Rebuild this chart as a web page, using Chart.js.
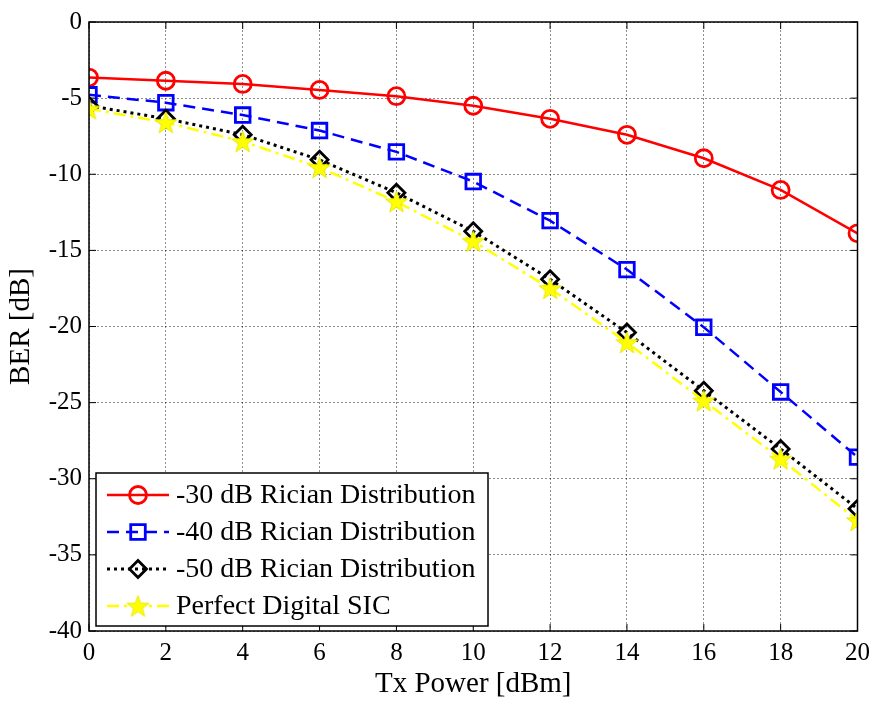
<!DOCTYPE html>
<html>
<head>
<meta charset="utf-8">
<script src="https://cdn.jsdelivr.net/npm/chart.js@4/dist/chart.umd.min.js"></script>
<style>
  body { margin: 0; background: #fff; }
  canvas { display: block; }
</style>
</head>
<body>
<canvas id="ber-chart" width="877" height="702"></canvas>
<script>
// Tx power sweep (dBm) and BER curves (dB)
const txPower = [0, 2, 4, 6, 8, 10, 12, 14, 16, 18, 20];
const rician30 = [-3.65, -3.86, -4.07, -4.46, -4.87, -5.5, -6.36, -7.41, -8.95, -11.03, -13.88];
const rician40 = [-4.78, -5.3, -6.11, -7.13, -8.53, -10.48, -13.05, -16.26, -20.05, -24.3, -28.58];
const rician50 = [-5.5, -6.35, -7.4, -9.05, -11.22, -13.75, -16.9, -20.4, -24.22, -28.04, -31.97];
const perfectSIC = [-5.7, -6.6, -7.85, -9.55, -11.8, -14.4, -17.5, -21.05, -24.88, -28.7, -32.74];

const seriesNames = ['-30 dB Rician Distribution', '-40 dB Rician Distribution',
                     '-50 dB Rician Distribution', 'Perfect Digital SIC'];
const xTicks = [0, 2, 4, 6, 8, 10, 12, 14, 16, 18, 20];
const yTicks = [0, -5, -10, -15, -20, -25, -30, -35, -40];

const FONT = '"Liberation Serif", "Times New Roman", serif';

// filled pentagram marker (Chart.js 'star' is only an asterisk)
function makeStar(r) {
    const size = Math.ceil(r * 2 + 4);
    const c = document.createElement('canvas');
    c.width = size; c.height = size;
    const g = c.getContext('2d');
    const cx = size / 2, cy = size / 2 + 1;
    g.beginPath();
    for (let i = 0; i < 10; i++) {
        const rad = i % 2 === 0 ? r : r * 0.4;
        const a = -Math.PI / 2 + i * Math.PI / 5;
        g.lineTo(cx + rad * Math.cos(a), cy + rad * Math.sin(a));
    }
    g.closePath();
    g.fillStyle = '#ffff00';
    g.fill();
    g.strokeStyle = '#e8e800';
    g.lineWidth = 1;
    g.stroke();
    return c;
}
const starImg = makeStar(11.5);

const toPoints = ys => ys.map((y, i) => ({ x: txPower[i], y }));

const datasets = [
    { label: seriesNames[0], data: toPoints(rician30), borderColor: '#ff0000', borderWidth: 2.5,
      pointStyle: 'circle', pointRadius: 8.5, pointBorderWidth: 2.8, order: 3 },
    { label: seriesNames[1], data: toPoints(rician40), borderColor: '#0000ff', borderWidth: 2.5,
      borderDash: [12, 7], pointStyle: 'rect', pointRadius: 10.3, pointBorderWidth: 2.8, order: 2 },
    { label: seriesNames[2], data: toPoints(rician50), borderColor: '#000000', borderWidth: 3,
      borderDash: [3, 4], pointStyle: 'rectRot', pointRadius: 8.5, pointBorderWidth: 2.8, order: 1 },
    { label: seriesNames[3], data: toPoints(perfectSIC), borderColor: '#ffff00', borderWidth: 2.5,
      borderDash: [12, 5, 3, 5], pointStyle: starImg, pointRadius: 11, order: 0 }
];
datasets.forEach(d => {
    d.fill = false;
    d.tension = 0;
    d.pointBackgroundColor = 'rgba(0,0,0,0)';
    d.pointBorderColor = d.borderColor;
});

// axes frame with inward ticks on all four sides, plus the legend box
const framePlugin = {
    id: 'frame',
    afterDatasetsDraw(chart) {
        const { ctx, chartArea: a, scales } = chart;
        ctx.save();
        ctx.strokeStyle = '#000';
        ctx.lineWidth = 1.5;
        ctx.setLineDash([]);
        ctx.strokeRect(a.left, a.top, a.right - a.left, a.bottom - a.top);
        ctx.lineWidth = 1;
        const tl = 7;
        ctx.beginPath();
        xTicks.forEach(v => {
            const px = scales.x.getPixelForValue(v);
            ctx.moveTo(px, a.bottom); ctx.lineTo(px, a.bottom - tl);
            ctx.moveTo(px, a.top); ctx.lineTo(px, a.top + tl);
        });
        yTicks.forEach(v => {
            const py = scales.y.getPixelForValue(v);
            ctx.moveTo(a.left, py); ctx.lineTo(a.left + tl, py);
            ctx.moveTo(a.right, py); ctx.lineTo(a.right - tl, py);
        });
        ctx.stroke();

        // legend
        const lx = 96, ly = 473, lw = 392, lh = 153;
        ctx.fillStyle = '#fff';
        ctx.fillRect(lx, ly, lw, lh);
        ctx.lineWidth = 1.5;
        ctx.strokeRect(lx, ly, lw, lh);
        ctx.font = '28px ' + FONT;
        ctx.textBaseline = 'middle';
        ctx.textAlign = 'left';
        chart.data.datasets.forEach((d, i) => {
            const y = ly + 22 + i * 37;
            ctx.strokeStyle = d.borderColor;
            ctx.lineWidth = d.borderWidth;
            ctx.setLineDash(d.borderDash || []);
            ctx.beginPath();
            ctx.moveTo(lx + 11, y); ctx.lineTo(lx + 73, y);
            ctx.stroke();
            ctx.setLineDash([]);
            const mx = lx + 42;
            ctx.lineWidth = d.pointBorderWidth || 2.5;
            ctx.beginPath();
            if (d.pointStyle === 'circle') {
                ctx.arc(mx, y, d.pointRadius, 0, Math.PI * 2);
                ctx.stroke();
            } else if (d.pointStyle === 'rect') {
                const s = d.pointRadius * Math.SQRT1_2;
                ctx.rect(mx - s, y - s, 2 * s, 2 * s);
                ctx.stroke();
            } else if (d.pointStyle === 'rectRot') {
                const r = d.pointRadius;
                ctx.moveTo(mx - r, y); ctx.lineTo(mx, y - r);
                ctx.lineTo(mx + r, y); ctx.lineTo(mx, y + r);
                ctx.closePath();
                ctx.stroke();
            } else {
                ctx.drawImage(starImg, mx - starImg.width / 2, y - starImg.height / 2);
            }
            ctx.fillStyle = '#000';
            ctx.fillText(d.label, lx + 80, y + 1);
        });
        ctx.restore();
    }
};

new Chart(document.getElementById('ber-chart'), {
    type: 'line',
    data: { datasets },
    options: {
        responsive: false,
        animation: false,
        layout: { padding: { top: 8, right: 8, left: 0, bottom: 0 } },
        plugins: { legend: { display: false }, tooltip: { enabled: false } },
        scales: {
            x: {
                type: 'linear', min: 0, max: 20,
                afterBuildTicks: s => { s.ticks = xTicks.map(v => ({ value: v })); },
                afterFit: s => { s.height = 71; },
                grid: { color: 'rgba(0,0,0,0.45)', lineWidth: 1, drawTicks: false },
                border: { display: false, dash: [2, 2] },
                ticks: { color: '#000', padding: 7, font: { family: FONT, size: 25 }, maxRotation: 0,
                         callback: v => String(v) },
                title: { display: true, text: 'Tx Power [dBm]', color: '#000',
                         font: { family: FONT, size: 29 }, padding: { top: 0, bottom: 0 } }
            },
            y: {
                type: 'linear', min: -40, max: 0,
                afterBuildTicks: s => { s.ticks = yTicks.map(v => ({ value: v })); },
                afterFit: s => { s.width = 89; },
                grid: { color: 'rgba(0,0,0,0.45)', lineWidth: 1, drawTicks: false },
                border: { display: false, dash: [2, 2] },
                ticks: { color: '#000', padding: 7, font: { family: FONT, size: 25 },
                         callback: v => String(v) },
                title: { display: true, text: 'BER [dB]', color: '#000',
                         font: { family: FONT, size: 29 }, padding: { top: 4, bottom: 0 } }
            }
        }
    },
    plugins: [framePlugin]
});
</script>
</body>
</html>
